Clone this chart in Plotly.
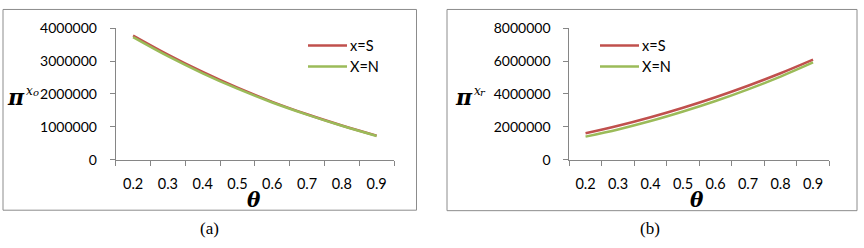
import plotly.graph_objects as go

theta = [0.2, 0.3, 0.4, 0.5, 0.6, 0.7, 0.8, 0.9]
tick_labels = ["0.2", "0.3", "0.4", "0.5", "0.6", "0.7", "0.8", "0.9"]
pi_o_S = [3780000, 3200000, 2670000, 2190000, 1760000, 1380000, 1040000, 730000]
pi_o_N = [3730000, 3150000, 2630000, 2160000, 1740000, 1370000, 1030000, 720000]
pi_r_S = [1610000, 2060000, 2580000, 3160000, 3800000, 4500000, 5260000, 6090000]
pi_r_N = [1400000, 1840000, 2350000, 2930000, 3570000, 4280000, 5060000, 5920000]
series_names = ["x=S", "X=N"]

RED = "#C0504D"
GREEN = "#9BBB59"
AXIS = "#868686"
FONT = "Lato"
W, H = 864, 248

fig = go.Figure()
fig.add_trace(go.Scatter(x=theta, y=pi_o_S, mode="lines", line=dict(color=RED, width=2.5, shape="spline"), xaxis="x", yaxis="y", showlegend=False))
fig.add_trace(go.Scatter(x=theta, y=pi_o_N, mode="lines", line=dict(color=GREEN, width=2.5, shape="spline"), xaxis="x", yaxis="y", showlegend=False))
fig.add_trace(go.Scatter(x=theta, y=pi_r_S, mode="lines", line=dict(color=RED, width=2.5, shape="spline"), xaxis="x2", yaxis="y2", showlegend=False))
fig.add_trace(go.Scatter(x=theta, y=pi_r_N, mode="lines", line=dict(color=GREEN, width=2.5, shape="spline"), xaxis="x2", yaxis="y2", showlegend=False))

def px(v):
    return v / W

def py(v):
    return 1 - v / H

ydom = [py(161.7), py(20.7)]
bounds = [0.15 + 0.1 * i for i in range(9)]

def xaxis(dom):
    return dict(domain=dom, range=[0.15, 0.95], tickvals=theta, ticktext=tick_labels,
                ticks="", showgrid=False, zeroline=False, showline=True, linecolor=AXIS, linewidth=1,
                tickfont=dict(family=FONT, size=14.5, color="#000"), ticklabelstandoff=11,
                minor=dict(tickvals=bounds, ticks="outside", ticklen=5, tickcolor=AXIS, showgrid=False),
                fixedrange=True)

def yaxis(dom, anchor, maxv, dt):
    return dict(domain=dom, anchor=anchor, range=[0, maxv], dtick=dt, tick0=0, ticks="outside", ticklen=5,
                tickcolor=AXIS, showgrid=False, zeroline=False, showline=True, linecolor=AXIS, linewidth=1,
                tickfont=dict(family=FONT, size=14, color="#000"), ticklabelstandoff=10,
                tickformat="d", fixedrange=True)

fig.update_layout(
    width=W, height=H, margin=dict(l=0, r=0, t=0, b=0),
    paper_bgcolor="white", plot_bgcolor="white",
    xaxis=dict(xaxis([px(115.7), px(394)]), anchor="y"),
    yaxis=yaxis(ydom, "x", 4000000, 1000000),
    xaxis2=dict(xaxis([px(569.3), px(829.3)]), anchor="y2"),
    yaxis2=yaxis(ydom, "x2", 8000000, 2000000),
)

shapes = []
# chart area borders
shapes.append(dict(type="rect", xref="paper", yref="paper", x0=px(3), x1=px(416.5), y0=py(216), y1=py(0.5),
                   line=dict(color="#8c8c8c", width=1)))
shapes.append(dict(type="rect", xref="paper", yref="paper", x0=px(447), x1=px(857), y0=py(216.5), y1=py(0.5),
                   line=dict(color="#8c8c8c", width=1)))
annotations = []
# legends
for (lx, ty) in [(308, 39.3), (600, 39.3)]:
    for i, (col, name) in enumerate(zip([RED, GREEN], series_names)):
        yy = ty + i * 22.4
        shapes.append(dict(type="line", xref="paper", yref="paper", x0=px(lx), x1=px(lx + 39), y0=py(yy), y1=py(yy),
                           line=dict(color=col, width=2.5)))
        annotations.append(dict(xref="paper", yref="paper", x=px(lx + 40), y=py(yy), xanchor="left", yanchor="middle",
                                text=name, showarrow=False, font=dict(family=FONT, size=14.5, color="#000")))

# axis titles
for (cx, sub) in [(16, "o"), (463.5, "r")]:
    annotations.append(dict(xref="paper", yref="paper", x=px(cx), y=py(94), xanchor="center", yanchor="middle",
                            text="<b><i>π</i></b>", showarrow=False,
                            font=dict(family="DejaVu Serif", size=22, color="#000")))
    annotations.append(dict(xref="paper", yref="paper", x=px(cx + 8), y=py(87.5), xanchor="left", yanchor="middle",
                            text="<i>x</i>", showarrow=False,
                            font=dict(family="DejaVu Serif", size=12, color="#000")))
    annotations.append(dict(xref="paper", yref="paper", x=px(cx + 14.5), y=py(90), xanchor="left", yanchor="middle",
                            text="<i>%s</i>" % sub, showarrow=False,
                            font=dict(family="DejaVu Serif", size=10, color="#000")))
for cx in [253.5, 697]:
    annotations.append(dict(xref="paper", yref="paper", x=px(cx), y=py(205), xanchor="center", yanchor="middle",
                            text="<b><i>θ</i></b>", showarrow=False,
                            font=dict(family="DejaVu Serif", size=20, color="#000")))
# captions
for cx, t in [(209, "(a)"), (650, "(b)")]:
    annotations.append(dict(xref="paper", yref="paper", x=px(cx), y=py(236), xanchor="center", yanchor="middle",
                            text=t, showarrow=False,
                            font=dict(family="Liberation Serif", size=17, color="#000")))

fig.update_layout(shapes=shapes, annotations=annotations)
fig.write_html("out.html")
